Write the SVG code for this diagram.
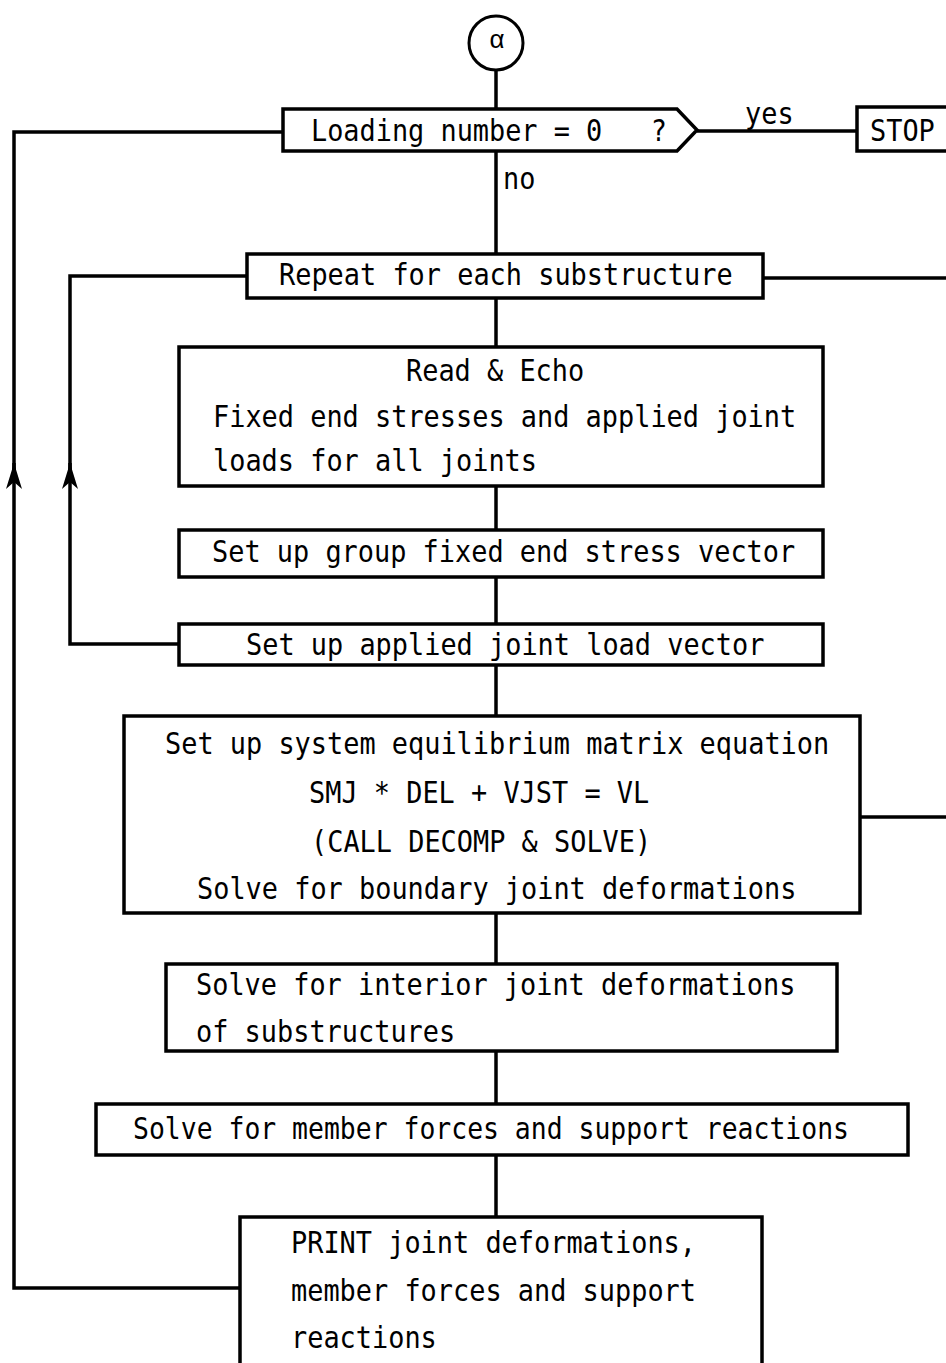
<svg xmlns="http://www.w3.org/2000/svg" width="946" height="1363" viewBox="0 0 946 1363">
  <style>
    .box { fill: #fff; stroke: #000; stroke-width: 3.5; }
    .wire { fill: none; stroke: #000; stroke-width: 3.5; stroke-linejoin: miter; }
    .t { font-family: "DejaVu Sans Mono", "Liberation Mono", monospace; font-size: 31px; fill: #000; white-space: pre; }
  </style>
  <defs>
    <marker id="arrow" markerUnits="userSpaceOnUse" viewBox="-28 -9 30 18" refX="0" refY="0" markerWidth="30" markerHeight="18" orient="auto">
      <path d="M0,0 L-26,-8 L-19,0 L-26,8 Z" fill="#000"/>
    </marker>
  </defs>

  <rect width="946" height="1363" fill="#fff"/>

  <!-- connectors -->
  <g id="connectors">
    <!-- main spine -->
    <line class="wire" x1="496" y1="70" x2="496" y2="109"/>
    <line class="wire" x1="496" y1="151" x2="496" y2="254"/>
    <line class="wire" x1="496" y1="298" x2="496" y2="347"/>
    <line class="wire" x1="496" y1="486" x2="496" y2="530"/>
    <line class="wire" x1="496" y1="577" x2="496" y2="624"/>
    <line class="wire" x1="496" y1="665" x2="496" y2="716"/>
    <line class="wire" x1="496" y1="913" x2="496" y2="964"/>
    <line class="wire" x1="496" y1="1051" x2="496" y2="1104"/>
    <line class="wire" x1="496" y1="1155" x2="496" y2="1217"/>
    <!-- yes branch -->
    <line class="wire" x1="697" y1="131" x2="857" y2="131"/>
    <!-- outer loop back to loading test -->
    <path class="wire" d="M240,1288 L14,1288 L14,463" marker-end="url(#arrow)"/>
    <path class="wire" d="M14,470 L14,132 L283,132"/>
    <!-- substructure loop -->
    <path class="wire" d="M179,644 L70,644 L70,463" marker-end="url(#arrow)"/>
    <path class="wire" d="M70,470 L70,276 L247,276"/>
    <!-- exits to the right -->
    <line class="wire" x1="763" y1="278" x2="946" y2="278"/>
    <line class="wire" x1="860" y1="817" x2="946" y2="817"/>
  </g>

  <g id="start">
    <circle cx="496" cy="43" r="27" fill="#fff" stroke="#000" stroke-width="3"/>
    <text x="497" y="41" text-anchor="middle" dominant-baseline="middle" font-family="Liberation Sans, sans-serif" font-size="26">α</text>
  </g>

  <g id="loading-test">
    <polygon class="box" points="283,109 677,109 697,130 677,151 283,151"/>
    <text class="t" x="311" y="141" textLength="356" lengthAdjust="spacingAndGlyphs" xml:space="preserve">Loading number = 0   ?</text>
    <text class="t" x="745" y="124" textLength="48.6" lengthAdjust="spacingAndGlyphs">yes</text>
    <text class="t" x="503" y="189" textLength="32.4" lengthAdjust="spacingAndGlyphs">no</text>
  </g>

  <g id="stop">
    <rect class="box" x="857" y="107" width="110" height="44"/>
    <text class="t" x="870" y="141" textLength="64.8" lengthAdjust="spacingAndGlyphs">STOP</text>
  </g>

  <g id="repeat">
    <rect class="box" x="247" y="254" width="516" height="44"/>
    <text class="t" x="279" y="285" textLength="453.6" lengthAdjust="spacingAndGlyphs">Repeat for each substructure</text>
  </g>

  <g id="read-echo">
    <rect class="box" x="179" y="347" width="644" height="139"/>
    <text class="t" x="406" y="381" textLength="178.2" lengthAdjust="spacingAndGlyphs">Read &amp; Echo</text>
    <text class="t" x="213" y="427" textLength="583.2" lengthAdjust="spacingAndGlyphs">Fixed end stresses and applied joint</text>
    <text class="t" x="213" y="471" textLength="324" lengthAdjust="spacingAndGlyphs">loads for all joints</text>
  </g>

  <g id="group-stress">
    <rect class="box" x="179" y="530" width="644" height="47"/>
    <text class="t" x="212" y="562" textLength="583.2" lengthAdjust="spacingAndGlyphs">Set up group fixed end stress vector</text>
  </g>

  <g id="joint-load">
    <rect class="box" x="179" y="624" width="644" height="41"/>
    <text class="t" x="246" y="655" textLength="518.4" lengthAdjust="spacingAndGlyphs">Set up applied joint load vector</text>
  </g>

  <g id="equilibrium">
    <rect class="box" x="124" y="716" width="736" height="197"/>
    <text class="t" x="165" y="754" textLength="664.2" lengthAdjust="spacingAndGlyphs">Set up system equilibrium matrix equation</text>
    <text class="t" x="309" y="803" textLength="340.2" lengthAdjust="spacingAndGlyphs">SMJ * DEL + VJST = VL</text>
    <text class="t" x="311" y="852" textLength="340.2" lengthAdjust="spacingAndGlyphs">(CALL DECOMP &amp; SOLVE)</text>
    <text class="t" x="197" y="899" textLength="599.4" lengthAdjust="spacingAndGlyphs">Solve for boundary joint deformations</text>
  </g>

  <g id="interior">
    <rect class="box" x="166" y="964" width="671" height="87"/>
    <text class="t" x="196" y="995" textLength="599.4" lengthAdjust="spacingAndGlyphs">Solve for interior joint deformations</text>
    <text class="t" x="196" y="1042" textLength="259.2" lengthAdjust="spacingAndGlyphs">of substructures</text>
  </g>

  <g id="member-forces">
    <rect class="box" x="96" y="1104" width="812" height="51"/>
    <text class="t" x="133" y="1139" textLength="716" lengthAdjust="spacingAndGlyphs">Solve for member forces and support reactions</text>
  </g>

  <g id="print">
    <rect class="box" x="240" y="1217" width="522" height="170"/>
    <text class="t" x="291" y="1253" textLength="405" lengthAdjust="spacingAndGlyphs">PRINT joint deformations,</text>
    <text class="t" x="291" y="1301" textLength="405" lengthAdjust="spacingAndGlyphs">member forces and support</text>
    <text class="t" x="291" y="1348" textLength="145.8" lengthAdjust="spacingAndGlyphs">reactions</text>
  </g>
</svg>
